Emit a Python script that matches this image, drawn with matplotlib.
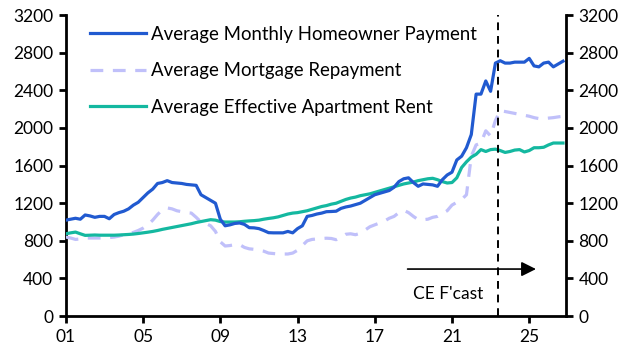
import numpy as np
import matplotlib
matplotlib.use("Agg")
import matplotlib.pyplot as plt

# quarterly, 2001 Q1 .. 2026 Q4
START_YEAR = 2001
homeowner = [
    1020, 1030, 1040, 1030,  1075, 1065, 1050, 1060,  1060, 1035, 1080, 1100,
    1115, 1140, 1180, 1210,  1260, 1310, 1350, 1410,  1420, 1440, 1420, 1415,
    1410, 1400, 1395, 1390,  1290, 1260, 1230, 1200,  1030, 960, 970, 985,
    990, 975, 940, 938,  930, 910, 887, 885,  885, 885, 900, 885,
    930, 960, 1060, 1070,  1085, 1095, 1110, 1112,  1115, 1145, 1160, 1170,
    1185, 1200, 1230, 1260,  1290, 1305, 1320, 1335,  1370, 1430, 1460, 1470,
    1420, 1380, 1405, 1400,  1395, 1380, 1450, 1500,  1530, 1660, 1700, 1790,
    1930, 2360, 2360, 2500,  2390, 2690, 2715, 2690,  2690, 2700, 2700, 2700,
    2740, 2660, 2650, 2690,  2700, 2650, 2680, 2710,
]
mortgage = [
    840, 830, 815, 820,  830, 830, 830, 830,  830, 835, 840, 850,
    865, 875, 890, 910,  935, 970, 1020, 1080,  1130, 1150, 1140, 1120,
    1110, 1100, 1095, 1050,  1000, 985, 960, 900,  790, 745, 750, 760,
    760, 730, 715, 710,  700, 690, 670, 665,  660, 660, 660, 670,
    700, 750, 800, 815,  820, 825, 828, 825,  812, 840, 870, 875,
    865, 880, 915, 950,  970, 990, 1010, 1040,  1060, 1100, 1125, 1100,
    1060, 1025, 1025, 1030,  1050, 1060, 1090, 1120,  1180, 1210, 1240, 1290,
    1700, 1820, 1840, 1970,  1915, 2080, 2185, 2175,  2165, 2155, 2145, 2135,
    2125, 2110, 2100, 2100,  2105, 2110, 2118, 2125,
]
rent = [
    875, 885, 893, 875,  858, 860, 862, 860,  860, 860, 860, 862,
    865, 868, 872, 878,  885, 892, 900, 910,  922, 932, 942, 952,
    962, 972, 982, 995,  1005, 1015, 1025, 1020,  1005, 1000, 1000, 1000,
    1003, 1008, 1012, 1015,  1020, 1030, 1038, 1045,  1055, 1070, 1085, 1095,
    1100, 1110, 1120, 1135,  1150, 1165, 1175, 1190,  1200, 1220, 1240, 1255,
    1265, 1280, 1290, 1300,  1315, 1330, 1345, 1360,  1375, 1390, 1405, 1415,
    1425, 1440, 1450, 1460,  1465, 1450, 1430, 1415,  1420, 1470, 1580, 1640,
    1690, 1720, 1770, 1750,  1770, 1775, 1760, 1740,  1750, 1765, 1770, 1745,
    1760, 1790, 1790, 1795,  1820, 1840, 1840, 1840,
]
labels = ["Average Monthly Homeowner Payment",
          "Average Mortgage Repayment",
          "Average Effective Apartment Rent"]
x_ticks = [2001, 2005, 2009, 2013, 2017, 2021, 2025]
x_ticklabels = ["01", "05", "09", "13", "17", "21", "25"]
y_ticks = list(range(0, 3201, 400))
FCAST_START = 2023.37

BLUE, LAVENDER, TEAL = "#215ad0", "#c0c0fa", "#14b8a0"

plt.rcParams["font.family"] = ["Lato", "DejaVu Sans"]
plt.rcParams["font.size"] = 12

years = START_YEAR + np.arange(len(homeowner)) / 4.0

fig = plt.figure(figsize=(6.33, 3.6), dpi=100)
ax = fig.add_axes([0.104, 0.122, 0.79, 0.836])

ax.plot(years, homeowner, color=BLUE, lw=2.3, label=labels[0], zorder=4)
ax.plot(years, mortgage, color=LAVENDER, lw=2.3, ls=(0, (4, 3)), label=labels[1], zorder=3)
ax.plot(years, rent, color=TEAL, lw=2.3, label=labels[2], zorder=3)

ax.axvline(FCAST_START, color="black", lw=1.4, ls=(0, (4, 3)), zorder=5)
ax.annotate("", xy=(2025.35, 500), xytext=(2018.7, 500),
            arrowprops=dict(arrowstyle="-|>", color="black", lw=1.2,
                            mutation_scale=22, shrinkA=0, shrinkB=0))
ax.text(2020.8, 240, "CE F'cast", ha="center", va="center", fontsize=12.5)

ax.set_xlim(2001, 2026.9)
ax.set_ylim(0, 3200)
ax.set_xticks(x_ticks)
ax.set_xticklabels(x_ticklabels)
ax.set_yticks(y_ticks)

ax2 = ax.twinx()
ax2.set_ylim(0, 3200)
ax2.set_yticks(y_ticks)

for a in (ax, ax2):
    a.spines["top"].set_visible(False)
    for s in ("left", "right", "bottom"):
        a.spines[s].set_linewidth(2.0)
    a.tick_params(width=2.0, length=5, labelsize=12.5, pad=4)
ax.spines["right"].set_visible(False)
ax2.spines["left"].set_visible(False)
ax2.spines["bottom"].set_visible(False)

ax.legend(loc="upper left", frameon=False, handlelength=3.0, handletextpad=0.25,
          labelspacing=1.05, borderaxespad=0.0, bbox_to_anchor=(0.034, 0.99),
          fontsize=13.4)

fig.savefig("out.png", dpi=100)
